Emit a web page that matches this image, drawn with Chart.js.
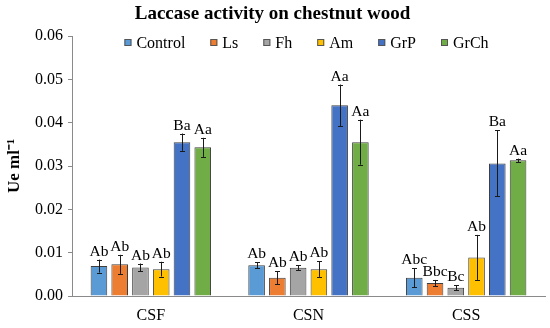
<!DOCTYPE html>
<html>
<head>
<meta charset="utf-8">
<script src="https://cdn.jsdelivr.net/npm/chart.js@4"></script>
<style>
  html, body { margin:0; padding:0; background:#fff; }
  #wrap { width:550px; height:328px; }
</style>
</head>
<body>
<div id="wrap"><canvas id="chart" width="550" height="328"></canvas></div>
<script>
// ===== DATA =====
const categories = ["CSF", "CSN", "CSS"];
const seriesNames = ["Control", "Ls", "Fh", "Am", "GrP", "GrCh"];
const seriesColors = ["#5B9BD5", "#ED7D31", "#A5A5A5", "#FFC000", "#4472C4", "#70AD47"];

// means per category (order = seriesNames)
const csfMean = [0.0069, 0.0073, 0.0066, 0.0062, 0.0355, 0.0343];
const csnMean = [0.0071, 0.0042, 0.0065, 0.0062, 0.0440, 0.0355];
const cssMean = [0.0042, 0.0030, 0.0019, 0.0089, 0.0306, 0.0313];

// standard deviations
const csfSd = [0.0015, 0.0022, 0.0009, 0.0017, 0.0020, 0.0022];
const csnSd = [0.0007, 0.0015, 0.0006, 0.0018, 0.0048, 0.0052];
const cssSd = [0.0022, 0.0007, 0.0006, 0.0052, 0.0076, 0.0004];

// significance letters
const csfLetters = ["Ab", "Ab", "Ab", "Ab", "Ba", "Aa"];
const csnLetters = ["Ab", "Ab", "Ab", "Ab", "Aa", "Aa"];
const cssLetters = ["Abc", "Bbc", "Bc", "Ab", "Ba", "Aa"];

const yTicks = [0, 0.01, 0.02, 0.03, 0.04, 0.05, 0.06];

const means = [csfMean, csnMean, cssMean];
const sds = [csfSd, csnSd, cssSd];
const letters = [csfLetters, csnLetters, cssLetters];

const FONT = "'Liberation Serif', 'Times New Roman', serif";
const AXIS_GRAY = "#8a8a8a";

const datasets = seriesNames.map((name, i) => ({
    label: name,
    data: means.map(m => m[i]),
    sd: sds.map(s => s[i]),
    letters: letters.map(l => l[i]),
    backgroundColor: seriesColors[i],
    borderColor: "#3f3f3f",
    borderWidth: 1,
    categoryPercentage: 0.79,
    barPercentage: 0.8
}));

// error bars + letters
const errorBars = {
    id: "errorBars",
    afterDatasetsDraw(chart){
        const c = chart.ctx;
        const y = chart.scales.y;
        c.save();
        chart.data.datasets.forEach((ds, di) => {
            const meta = chart.getDatasetMeta(di);
            meta.data.forEach((bar, j) => {
                const v = ds.data[j], e = ds.sd[j];
                const top = y.getPixelForValue(v + e);
                const bot = y.getPixelForValue(v - e);
                const x = Math.round(bar.x) + 0.5;
                c.strokeStyle = "#1a1a1a";
                c.lineWidth = 1;
                c.beginPath();
                c.moveTo(x, top); c.lineTo(x, bot);
                c.moveTo(x - 2.5, Math.round(top) + 0.5); c.lineTo(x + 2.5, Math.round(top) + 0.5);
                c.moveTo(x - 2.5, Math.round(bot) + 0.5); c.lineTo(x + 2.5, Math.round(bot) + 0.5);
                c.stroke();

                c.fillStyle = "#000";
                c.font = "15.5px " + FONT;
                c.textAlign = "center";
                c.textBaseline = "alphabetic";
                c.fillText(ds.letters[j], bar.x, top - 4);
            });
        });
        c.restore();
    }
};

// legend drawn inside the plot area
const insideLegend = {
    id: "insideLegend",
    afterDraw(chart){
        const c = chart.ctx;
        const area = chart.chartArea;
        c.save();
        c.font = "16px " + FONT;
        const box = 7, gapText = 5, gapItem = 25;
        const widths = chart.data.datasets.map(ds => box + gapText + c.measureText(ds.label).width);
        const total = widths.reduce((a, b) => a + b, 0) + gapItem * (widths.length - 1);
        let x = (area.left + area.right) / 2 - total / 2 - 2;
        const cy = area.top + 6.5;
        chart.data.datasets.forEach((ds, i) => {
            c.fillStyle = ds.backgroundColor;
            c.fillRect(x, cy - box / 2, box, box);
            c.strokeStyle = "#555";
            c.lineWidth = 1;
            c.strokeRect(x + 0.5, cy - box / 2 + 0.5, box - 1, box - 1);
            c.fillStyle = "#000";
            c.textBaseline = "middle";
            c.textAlign = "left";
            c.fillText(ds.label, x + box + gapText, cy + 1);
            x += widths[i] + gapItem;
        });
        c.restore();
    }
};

new Chart(document.getElementById("chart"), {
    type: "bar",
    data: { labels: categories, datasets: datasets },
    options: {
        responsive: false,
        animation: false,
        layout: { padding: { left: 0, right: 5, top: 0, bottom: 0 } },
        plugins: {
            legend: { display: false },
            tooltip: { enabled: false },
            title: {
                display: true,
                text: "Laccase activity on chestnut wood",
                color: "#000",
                font: { family: FONT, size: 19, weight: "bold" },
                padding: { top: 3, bottom: 10.2 }
            }
        },
        scales: {
            x: {
                grid: { display: true, drawOnChartArea: false, drawTicks: false },
                border: { display: true, color: AXIS_GRAY, width: 1 },
                ticks: { color: "#000", font: { family: FONT, size: 16 }, padding: 10 },
                afterFit(s){ s.height = 32; }
            },
            y: {
                min: yTicks[0],
                max: yTicks[yTicks.length - 1],
                ticks: {
                    stepSize: 0.005,
                    color: "#000",
                    font: { family: FONT, size: 16 },
                    padding: 5,
                    callback: v => (Math.round(v * 1000) % 10 === 0 ? v.toFixed(2) : "")
                },
                grid: { display: true, drawOnChartArea: false, drawTicks: true, tickLength: 4, color: AXIS_GRAY },
                border: { display: true, color: AXIS_GRAY, width: 1 },
                title: {
                    display: true,
                    text: "Ue ml\u207B\u00B9",
                    color: "#000",
                    font: { family: FONT, size: 17, weight: "bold" },
                    padding: { top: 4, bottom: 0 }
                },
                afterFit(s){ s.width = 72; }
            }
        }
    },
    plugins: [errorBars, insideLegend]
});
</script>
</body>
</html>
